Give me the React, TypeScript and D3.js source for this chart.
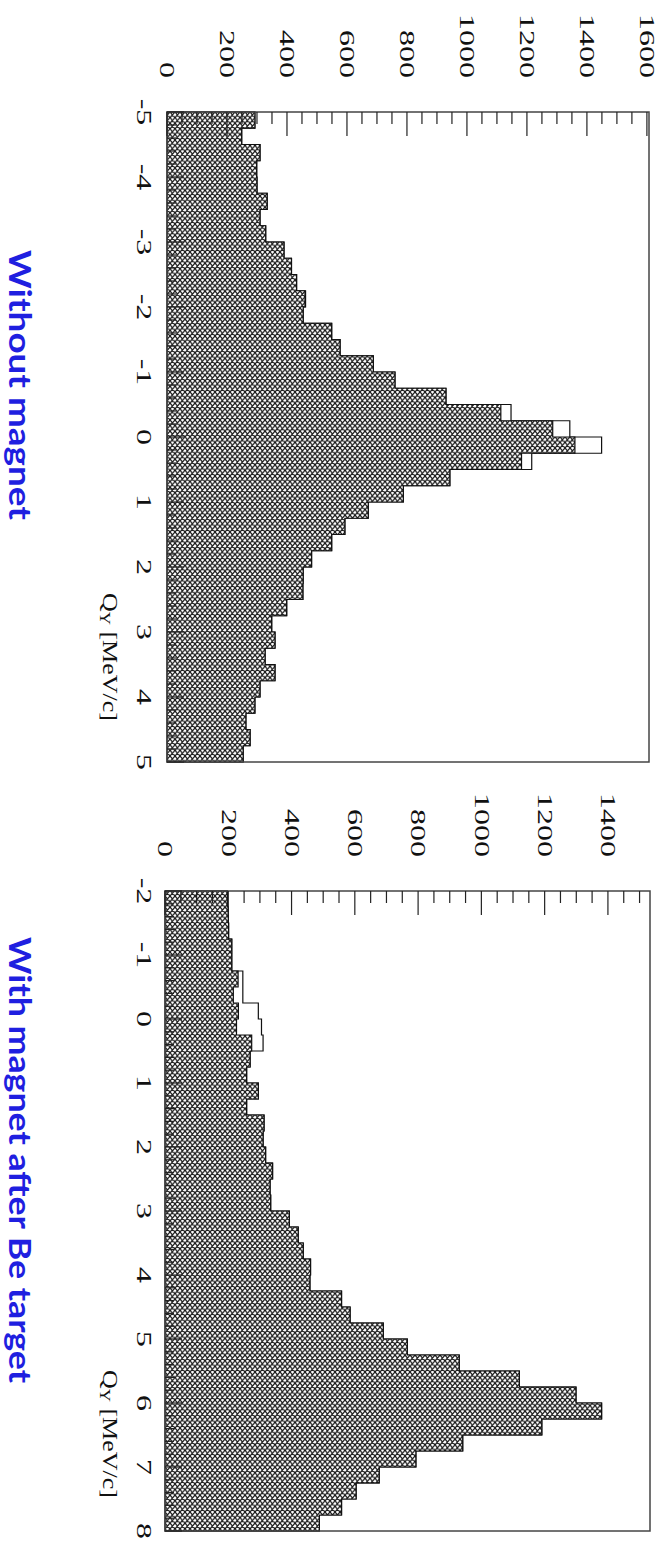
import React, { useEffect, useRef } from 'react'
import * as d3 from 'd3'

const W = 663
const H = 1545

// counts per 0.25 MeV/c bin
const topFilled = [293, 249, 310, 299, 300, 334, 310, 329, 390, 415, 432, 460, 454, 549, 577, 688, 760, 930, 1113, 1286, 1360, 1182, 943, 788, 671, 593, 549, 482, 454, 453, 399, 349, 360, 327, 360, 310, 293, 263, 277, 254]
const topOpen = [293, 249, 310, 299, 300, 334, 310, 329, 390, 415, 432, 462, 454, 549, 577, 688, 760, 930, 1147, 1343, 1449, 1216, 943, 788, 671, 593, 549, 482, 454, 453, 399, 349, 360, 327, 360, 310, 293, 263, 277, 254]
const bottomFilled = [197, 200, 201, 211, 211, 231, 216, 232, 226, 274, 269, 258, 295, 258, 313, 310, 318, 340, 332, 334, 393, 421, 437, 460, 458, 558, 585, 690, 766, 930, 1120, 1299, 1380, 1191, 941, 793, 677, 604, 558, 488]
const bottomOpen = [197, 200, 201, 211, 211, 246, 246, 295, 305, 310, 269, 258, 295, 258, 313, 310, 318, 340, 332, 334, 393, 421, 437, 460, 458, 558, 585, 690, 766, 930, 1120, 1299, 1380, 1191, 941, 793, 677, 604, 558, 488]

const topCountTicks = [0, 200, 400, 600, 800, 1000, 1200, 1400, 1600]
const bottomCountTicks = [0, 200, 400, 600, 800, 1000, 1200, 1400]
const topQTicks = [-5, -4, -3, -2, -1, 0, 1, 2, 3, 4, 5]
const bottomQTicks = [-2, -1, 0, 1, 2, 3, 4, 5, 6, 7, 8]

const titles = ['Without magnet', 'With magnet after Be target']

const HW = 5 // hatch cell
const HH = 5.6

function drawPanel(svg, p) {
  const q = d3.scaleLinear().domain(p.qDomain).range([p.top, p.bottom])
  const c = d3.scaleLinear().domain([0, p.countMax]).range([p.left, p.right])
  const nb = p.filled.length
  const bw = (p.qDomain[1] - p.qDomain[0]) / nb
  const edges = d3.range(nb + 1).map((i) => p.qDomain[0] + i * bw)

  const line = d3.line()
  const stepPoints = (vals) => {
    const pts = [[c(0), q(edges[0])]]
    vals.forEach((v, i) => {
      pts.push([c(v), q(edges[i])])
      pts.push([c(v), q(edges[i + 1])])
    })
    pts.push([c(0), q(edges[nb])])
    return pts
  }

  // open histogram (outline only)
  svg
    .append('path')
    .attr('d', line(stepPoints(p.open)))
    .attr('fill', 'none')
    .attr('stroke', '#111')
    .attr('stroke-width', 1.2)

  // hatched histogram
  svg
    .append('path')
    .attr('d', line(stepPoints(p.filled)) + 'Z')
    .attr('fill', 'url(#xhatch)')
    .attr('stroke', '#111')
    .attr('stroke-width', 1.2)

  // frame
  svg
    .append('rect')
    .attr('x', c(0))
    .attr('y', q(p.qDomain[0]))
    .attr('width', c(p.countMax) - c(0))
    .attr('height', q(p.qDomain[1]) - q(p.qDomain[0]))
    .attr('fill', 'none')
    .attr('stroke', '#444')
    .attr('stroke-width', 1.5)

  // count axis ticks (top edge, pointing in)
  const cMinor = d3.range(0, p.countMax, 50)
  svg
    .selectAll(null)
    .data(cMinor)
    .enter()
    .append('line')
    .attr('x1', (d) => c(d))
    .attr('x2', (d) => c(d))
    .attr('y1', p.top)
    .attr('y2', (d) => p.top + (d % 200 === 0 ? 24 : 12))
    .attr('stroke', '#222')
    .attr('stroke-width', 1.2)

  // Q axis ticks (left edge, pointing in)
  const qMinor = d3.range(p.qDomain[0], p.qDomain[1] + 0.001, 0.2)
  svg
    .selectAll(null)
    .data(qMinor)
    .enter()
    .append('line')
    .attr('x1', p.left)
    .attr('x2', (d) => p.left + (Math.abs(d - Math.round(d)) < 0.01 ? 17 : 9))
    .attr('y1', (d) => q(d))
    .attr('y2', (d) => q(d))
    .attr('stroke', '#222')
    .attr('stroke-width', 1.2)

  // count tick labels, rotated like the rest of the figure
  svg
    .selectAll(null)
    .data(p.countTicks)
    .enter()
    .append('text')
    .attr('transform', (d) => `translate(${c(d)},${p.labelEnd}) rotate(90) scale(1.6,1)`)
    .attr('text-anchor', 'end')
    .attr('dominant-baseline', 'central')
    .attr('font-family', '"Liberation Serif", "Times New Roman", serif')
    .attr('font-size', 20)
    .attr('fill', '#111')
    .text((d) => d)

  // Q tick labels
  svg
    .selectAll(null)
    .data(p.qTicks)
    .enter()
    .append('text')
    .attr('transform', (d) => `translate(${p.qLabelX},${q(d)}) rotate(90) scale(1.6,1)`)
    .attr('text-anchor', 'middle')
    .attr('dominant-baseline', 'central')
    .attr('font-family', '"Liberation Serif", "Times New Roman", serif')
    .attr('font-size', 20)
    .attr('fill', '#111')
    .text((d) => d)

  // axis title Q_Y [MeV/c]
  const t = svg
    .append('text')
    .attr('transform', `translate(103,${p.axisTitleY}) rotate(90) scale(1.3,1)`)
    .attr('font-family', '"Liberation Serif", "Times New Roman", serif')
    .attr('font-size', 20)
    .attr('fill', '#111')
  t.append('tspan').text('Q')
  t.append('tspan').attr('font-size', 14).attr('dy', 3).text('Y')
  t.append('tspan').attr('dy', -3).text(' [MeV/c]')

  // panel caption
  svg
    .append('text')
    .attr('transform', `translate(21,${p.titleY}) rotate(90)`)
    .attr('text-anchor', 'middle')
    .attr('dominant-baseline', 'central')
    .attr('font-family', 'Lato, "Open Sans", sans-serif')
    .attr('font-weight', 'bold')
    .attr('font-size', 31)
    .attr('fill', '#1f1fe0')
    .attr('textLength', p.titleLen)
    .attr('lengthAdjust', 'spacingAndGlyphs')
    .text(p.title)
}

export default function App() {
  const svgRef = useRef(null)

  useEffect(() => {
    const svg = d3.select(svgRef.current)
    svg.selectAll('*').remove()

    svg.append('rect').attr('width', W).attr('height', H).attr('fill', '#fff')

    // cross-hatch fill
    const pat = svg
      .append('defs')
      .append('pattern')
      .attr('id', 'xhatch')
      .attr('patternUnits', 'userSpaceOnUse')
      .attr('width', HW)
      .attr('height', HH)
    pat.append('rect').attr('width', HW).attr('height', HH).attr('fill', '#fff')
    pat
      .append('path')
      .attr(
        'd',
        `M${-HW},${-HH}L${2 * HW},${2 * HH}M${-HW},0L${HW},${2 * HH}M0,${-HH}L${2 * HW},${HH}` +
          `M${2 * HW},${-HH}L${-HW},${2 * HH}M${-HW},${HH}L${HW},${-HH}M${2 * HW},0L0,${2 * HH}`
      )
      .attr('stroke', '#1a1a1a')
      .attr('stroke-width', 1.25)

    drawPanel(svg, {
      qDomain: [-5, 5],
      top: 112,
      bottom: 762,
      left: 167,
      right: 649,
      countMax: 1607,
      filled: topFilled,
      open: topOpen,
      countTicks: topCountTicks,
      qTicks: topQTicks,
      labelEnd: 78,
      qLabelX: 144,
      axisTitleY: 593,
      title: titles[0],
      titleY: 385,
      titleLen: 270,
    })

    drawPanel(svg, {
      qDomain: [-2, 8],
      top: 891,
      bottom: 1531,
      left: 165,
      right: 650,
      countMax: 1533,
      filled: bottomFilled,
      open: bottomOpen,
      countTicks: bottomCountTicks,
      qTicks: bottomQTicks,
      labelEnd: 857,
      qLabelX: 144,
      axisTitleY: 1370,
      title: titles[1],
      titleY: 1160,
      titleLen: 446,
    })
  }, [])

  return (
    <svg
      ref={svgRef}
      width={W}
      height={H}
      style={{ position: 'absolute', left: 0, top: 0, display: 'block' }}
    ></svg>
  )
}
